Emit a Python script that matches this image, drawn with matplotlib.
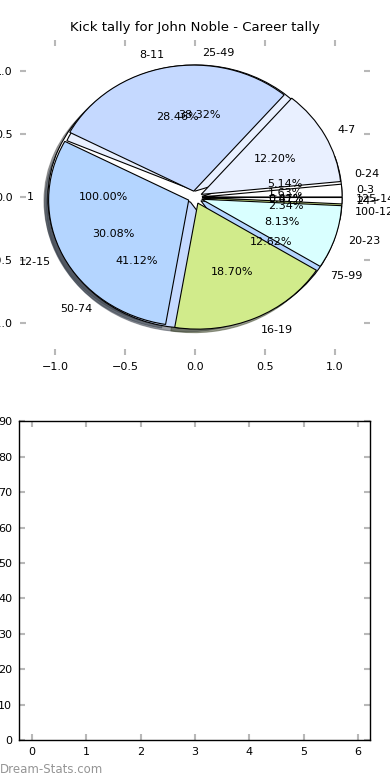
import matplotlib
matplotlib.use("Agg")
import matplotlib.pyplot as plt

# kick tally per game, career
kick_ranges = ['0-3', '4-7', '8-11', '12-15', '16-19', '20-23', '24+']
kick_games = [4, 30, 70, 74, 46, 20, 2]

# second tally drawn underneath
tally_ranges = ['0-24', '25-49', '50-74', '75-99', '100-124', '125-149']
tally_games = [11, 82, 88, 27, 5, 1]

# single-slice pie at the bottom
base_labels = ['1']
base_values = [1]

colors = ['#ffffff', '#e9f0ff', '#c5d9ff', '#b4d5ff', '#d1eb8b', '#d9ffff', '#ffffff']

fig = plt.figure(figsize=(3.9, 7.8), dpi=100)
ax = fig.add_axes([0.051, 0.545, 0.898, 0.404])
ax2 = fig.add_axes([0.049, 0.051, 0.9, 0.409])

wp = {'edgecolor': 'black', 'linewidth': 0.8}
tp = {'fontsize': 8}

for labels, vals in [(base_labels, base_values), (tally_ranges, tally_games), (kick_ranges, kick_games)]:
    ax.pie(vals, labels=labels, colors=colors[:len(vals)], explode=[0.05] * len(vals),
           autopct='%.2f%%', shadow=True, wedgeprops=wp, textprops=tp, frame=True)

ax.set_aspect('auto')
ax.set_xlim(-1.25, 1.25)
ax.set_ylim(-1.25, 1.25)
ax.set_xticks([-1.0, -0.5, 0.0, 0.5, 1.0])
ax.set_yticks([-1.0, -0.5, 0.0, 0.5, 1.0])
ax.set_xticklabels(['\u22121.0', '\u22120.5', '0.0', '0.5', '1.0'])
ax.set_yticklabels(['\u22121.0', '\u22120.5', '0.0', '0.5', '1.0'])
ax.set_frame_on(False)
ax.set_title('Kick tally for John Noble - Career tally', fontsize=9.5)

for a in (ax, ax2):
    a.tick_params(direction='in', length=4, width=1.5, color='#b8b8b8',
                  top=True, right=True, labelsize=8, pad=5)

ax2.set_xlim(-0.24, 6.22)
ax2.set_ylim(0, 90)
ax2.set_xticks(range(0, 7))
ax2.set_yticks(range(0, 91, 10))
for s in ax2.spines.values():
    s.set_linewidth(1.0)
    s.set_color('black')

fig.text(0.0, 0.013, 'Dream-Stats.com', color='#959595', fontsize=8.5,
         ha='left', va='center')

fig.savefig('out.png', dpi=100)
